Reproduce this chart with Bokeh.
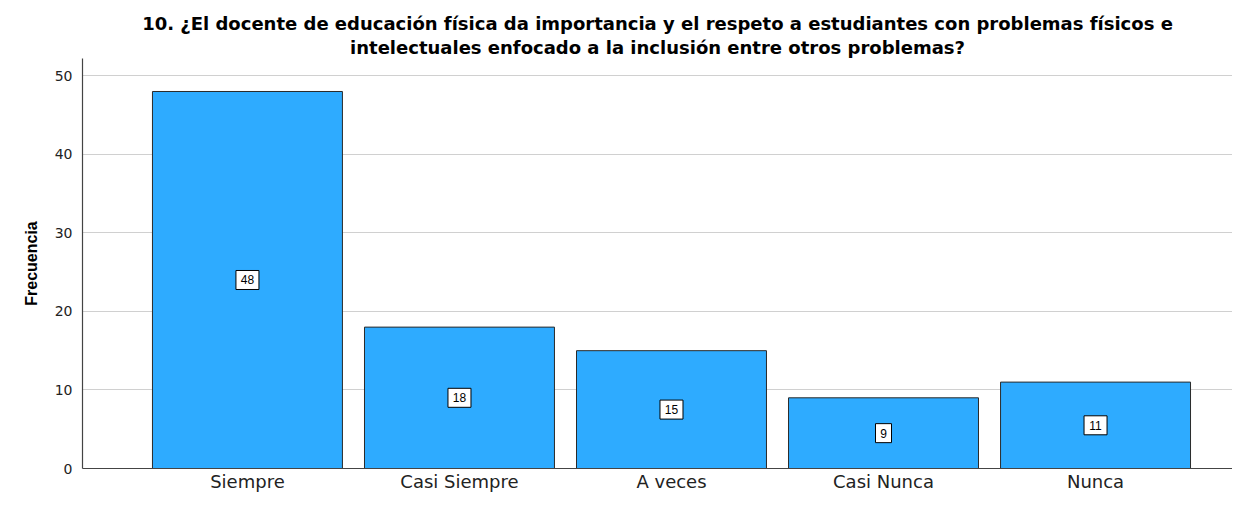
from bokeh.plotting import figure
from bokeh.models import ColumnDataSource, Range1d, FixedTicker, Title
from bokeh.core.properties import value
from bokeh.embed import file_html
from bokeh.resources import INLINE

categories = ["Siempre", "Casi Siempre", "A veces", "Casi Nunca", "Nunca"]
frecuencia = [48, 18, 15, 9, 11]
y_ticks = [0, 10, 20, 30, 40, 50]
title_line1 = "10. ¿El docente de educación física da importancia y el respeto a estudiantes con problemas físicos e"
title_line2 = "intelectuales enfocado a la inclusión entre otros problemas?"

xs = list(range(len(categories)))
labs = [str(v) for v in frecuencia]
src = ColumnDataSource(dict(
    x=xs,
    top=frecuencia,
    mid=[v / 2 for v in frecuencia],
    lab=labs,
    bw=[9 + 7 * len(s) for s in labs],
))

p = figure(width=1232, height=494, output_backend="svg", toolbar_location=None,
           x_range=Range1d(-0.778, 4.646), y_range=Range1d(0, 52.2),
           min_border_left=82, min_border_right=0, min_border_top=58, min_border_bottom=0)
p.outline_line_color = None

p.vbar(x="x", top="top", width=0.896, source=src, fill_color="#2eabff",
       line_color="#2a2a2a", line_width=1)

p.rect(x="x", y="mid", width="bw", height=19, width_units="screen", height_units="screen",
       source=src, fill_color="white", line_color="black", line_width=1)
p.text(x="x", y="mid", text="lab", source=src, text_align="center", text_baseline="middle",
       text_font=value("Liberation Sans"), text_font_size="12px", text_color="black")

p.add_layout(Title(text=title_line2, align="center", text_font="DejaVu Sans",
                   text_font_size="18px", text_font_style="bold", text_color="black",
                   standoff=2, offset=0), "above")
p.add_layout(Title(text=title_line1, align="center", text_font="DejaVu Sans",
                   text_font_size="18px", text_font_style="bold", text_color="black",
                   standoff=0, offset=0), "above")

p.xgrid.grid_line_color = None
p.ygrid.grid_line_color = "#d0d0d0"
p.ygrid.grid_line_width = 1

p.xaxis.ticker = FixedTicker(ticks=xs)
p.xaxis.major_label_overrides = {i: c for i, c in enumerate(categories)}
p.xaxis.major_label_text_font = "DejaVu Sans"
p.xaxis.major_label_text_font_size = "18px"
p.xaxis.major_label_text_color = "#222222"
p.xaxis.major_label_standoff = 2
p.xaxis.major_tick_line_color = None
p.xaxis.major_tick_out = 0
p.xaxis.minor_tick_line_color = None
p.xaxis.axis_line_color = "#444444"
p.xaxis.axis_line_width = 1.2

p.yaxis.ticker = FixedTicker(ticks=y_ticks)
p.yaxis.major_label_text_font = "DejaVu Sans"
p.yaxis.major_label_text_font_size = "14px"
p.yaxis.major_label_text_color = "#222222"
p.yaxis.major_tick_line_color = None
p.yaxis.major_tick_out = 0
p.yaxis.minor_tick_line_color = None
p.yaxis.major_label_standoff = 10
p.yaxis.axis_line_color = "#444444"
p.yaxis.axis_line_width = 1.2
p.yaxis.axis_label = "Frecuencia"
p.yaxis.axis_label_text_font = "Liberation Sans"
p.yaxis.axis_label_text_font_size = "16px"
p.yaxis.axis_label_text_font_style = "bold"
p.yaxis.axis_label_text_color = "black"
p.yaxis.axis_label_standoff = 12

open("out.html", "w").write(file_html(p, INLINE))
